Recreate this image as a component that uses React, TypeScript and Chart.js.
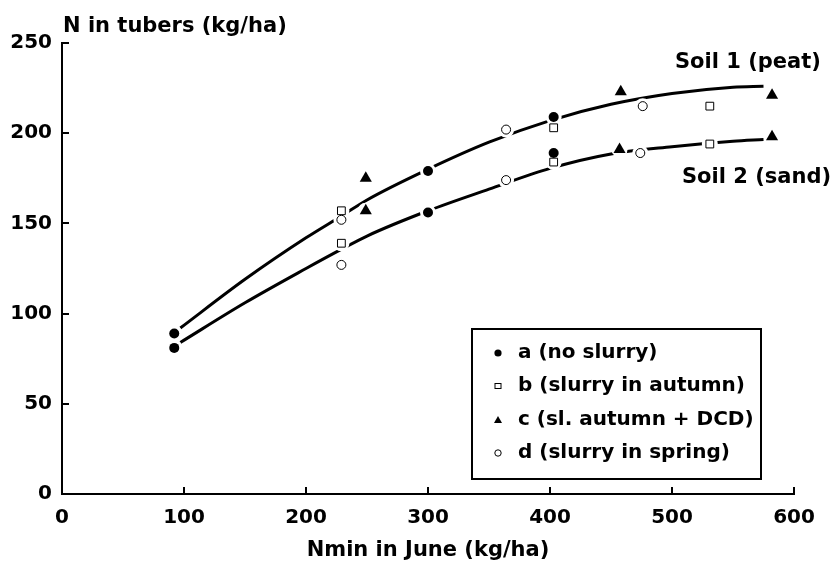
import React, { useEffect, useRef } from "react";
import { Chart, registerables } from "chart.js";

Chart.register(...registerables);

// ---- data ----
const xTickStep = 100;
const yTickStep = 50;
const xMin = 0;
const xMax = 600;
const yMin = 0;
const yMax = 250;

const xTitle = "Nmin in June (kg/ha)";
const yTitle = "N in tubers (kg/ha)";
const soil1Label = "Soil 1 (peat)";
const soil2Label = "Soil 2 (sand)";

// fitted curves
const soil1CurveX = [97, 150, 200, 230, 250, 300, 350, 400, 450, 500, 550, 575];
const soil1CurveY = [92, 119, 142, 154.5, 163, 180, 195, 207, 216, 222, 225.5, 226];
const soil2CurveX = [97, 150, 200, 230, 250, 300, 350, 400, 450, 500, 550, 575];
const soil2CurveY = [84, 106, 125, 136, 143, 157, 169, 180.5, 188.5, 192.5, 195.5, 196.5];

// treatments (soil 1 and soil 2 points)
const aX = [92, 92, 300, 300, 403, 403];
const aY = [89, 81, 179, 156, 209, 189];
const bX = [229, 229, 403, 403, 531, 531];
const bY = [157, 139, 203, 184, 215, 194];
const cX = [249, 249, 458, 457, 582, 582];
const cY = [175, 157, 223, 191, 221, 198];
const dX = [229, 229, 364, 364, 476, 474];
const dY = [152, 127, 202, 174, 215, 189];

const legendLabels = [
  "a (no slurry)",
  "b (slurry in autumn)",
  "c (sl. autumn + DCD)",
  "d (slurry in spring)",
];

const FONT = "'DejaVu Sans', 'Liberation Sans', sans-serif";

const zip = (xs: number[], ys: number[]) => xs.map((x, i) => ({ x, y: ys[i] }));

const overlayPlugin = {
  id: "overlay",
  afterDraw(chart: any) {
    const { ctx, chartArea, scales } = chart;
    const xs = scales.x;
    const ys = scales.y;
    ctx.save();
    ctx.strokeStyle = "#000";
    ctx.lineWidth = 2;
    // inward ticks
    const tl = 7;
    for (let v = xMin; v <= xMax; v += xTickStep) {
      const px = Math.round(xs.getPixelForValue(v));
      ctx.beginPath();
      ctx.moveTo(px, chartArea.bottom);
      ctx.lineTo(px, chartArea.bottom - tl);
      ctx.stroke();
    }
    for (let v = yMin; v <= yMax; v += yTickStep) {
      const py = Math.round(ys.getPixelForValue(v));
      ctx.beginPath();
      ctx.moveTo(chartArea.left, py);
      ctx.lineTo(chartArea.left + tl, py);
      ctx.stroke();
    }
    // y title at top
    ctx.fillStyle = "#000";
    ctx.font = `bold 21px ${FONT}`;
    ctx.textAlign = "left";
    ctx.textBaseline = "middle";
    ctx.fillText(yTitle, 63, 27);
    // curve labels
    ctx.font = `bold 21px ${FONT}`;
    ctx.fillText(soil1Label, 675, 63);
    ctx.fillText(soil2Label, 682, 178);

    // legend box
    const bx = 472, by = 329, bw = 289, bh = 150;
    ctx.lineWidth = 2;
    ctx.strokeRect(bx, by, bw, bh);
    const rows = [353, 386, 420, 453];
    const mx = 498;
    ctx.font = `bold 20px ${FONT}`;
    rows.forEach((ry, i) => {
      ctx.fillStyle = "#000";
      ctx.strokeStyle = "#000";
      ctx.lineWidth = 1;
      if (i === 0) {
        ctx.beginPath();
        ctx.arc(mx, ry, 3.6, 0, Math.PI * 2);
        ctx.fill();
      } else if (i === 1) {
        ctx.strokeRect(mx - 3, ry - 2.5, 6, 5);
      } else if (i === 2) {
        ctx.beginPath();
        ctx.moveTo(mx, ry - 4);
        ctx.lineTo(mx + 4, ry + 3);
        ctx.lineTo(mx - 4, ry + 3);
        ctx.closePath();
        ctx.fill();
      } else {
        ctx.beginPath();
        ctx.arc(mx, ry, 3.2, 0, Math.PI * 2);
        ctx.stroke();
      }
      ctx.fillText(legendLabels[i], 518, ry);
    });
    ctx.restore();
  },
};

export default function App() {
  const ref = useRef<HTMLCanvasElement | null>(null);

  useEffect(() => {
    if (!ref.current) return;
    const allX = [...aX, ...bX, ...cX, ...dX];
    const allY = [...aY, ...bY, ...cY, ...dY];
    const chart = new Chart(ref.current, {
      type: "scatter",
      data: {
        datasets: [
          {
            label: "a",
            data: zip(aX, aY),
            pointStyle: "circle",
            pointRadius: 5,
            backgroundColor: "#000",
            borderColor: "#000",
            borderWidth: 0,
            order: 0,
          },
          {
            label: "b",
            data: zip(bX, bY),
            pointStyle: "rect",
            pointRadius: 5.5,
            backgroundColor: "#fff",
            borderColor: "#000",
            borderWidth: 1,
            order: 0,
          },
          {
            label: "c",
            data: zip(cX, cY),
            pointStyle: "triangle",
            pointRadius: 7,
            backgroundColor: "#000",
            borderColor: "#000",
            borderWidth: 0,
            order: 0,
          },
          {
            label: "d",
            data: zip(dX, dY),
            pointStyle: "circle",
            pointRadius: 4.5,
            backgroundColor: "#fff",
            borderColor: "#000",
            borderWidth: 1,
            order: 0,
          },
          {
            label: "halo",
            data: zip(allX, allY),
            pointStyle: "circle",
            pointRadius: 8,
            backgroundColor: "#fff",
            borderColor: "#fff",
            borderWidth: 0,
            order: 1,
          },
          {
            label: "Soil 1",
            data: zip(soil1CurveX, soil1CurveY),
            showLine: true,
            pointRadius: 0,
            borderColor: "#000",
            borderWidth: 3,
            cubicInterpolationMode: "monotone",
            order: 2,
          } as any,
          {
            label: "Soil 2",
            data: zip(soil2CurveX, soil2CurveY),
            showLine: true,
            pointRadius: 0,
            borderColor: "#000",
            borderWidth: 3,
            cubicInterpolationMode: "monotone",
            order: 2,
          } as any,
        ],
      },
      options: {
        animation: false,
        responsive: true,
        maintainAspectRatio: false,
        layout: { padding: { top: 43, right: 37, left: 0, bottom: 0 } },
        plugins: {
          legend: { display: false },
          tooltip: { enabled: false },
        },
        scales: {
          x: {
            type: "linear",
            min: xMin,
            max: xMax,
            grid: { display: false, drawTicks: false },
            border: { display: true, color: "#000", width: 2 },
            ticks: {
              stepSize: xTickStep,
              color: "#000",
              padding: 12,
              font: { family: FONT, weight: "bold", size: 20 },
            },
            title: {
              display: true,
              text: xTitle,
              color: "#000",
              padding: 0,
              font: { family: FONT, weight: "bold", size: 21, lineHeight: 1 },
            },
            afterFit: (s: any) => {
              s.height = 67;
            },
          },
          y: {
            type: "linear",
            min: yMin,
            max: yMax,
            grid: { display: false, drawTicks: false },
            border: { display: true, color: "#000", width: 2 },
            ticks: {
              stepSize: yTickStep,
              color: "#000",
              padding: 10,
              font: { family: FONT, weight: "bold", size: 20 },
            },
            afterFit: (s: any) => {
              s.width = 62;
            },
          },
        },
      } as any,
      plugins: [overlayPlugin],
    });
    return () => chart.destroy();
  }, []);

  return (
    <div style={{ position: "absolute", left: 0, top: 0, width: 831, height: 561, background: "#fff" }}>
      <canvas ref={ref} />
    </div>
  );
}
